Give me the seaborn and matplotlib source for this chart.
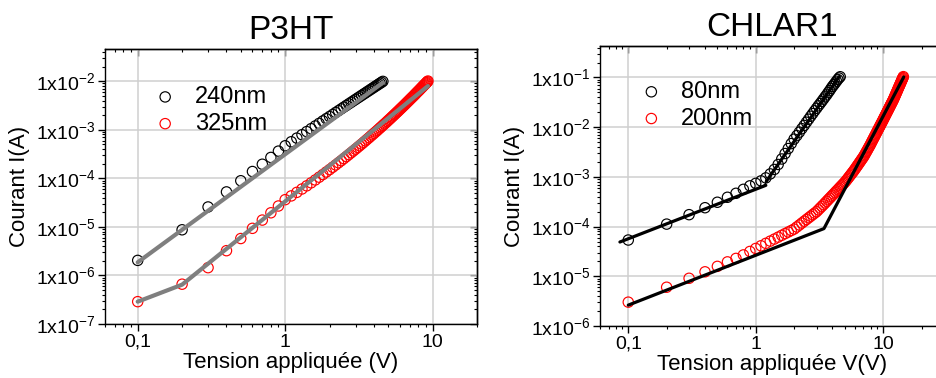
import numpy as np
import pandas as pd
import matplotlib
matplotlib.use("Agg")
import matplotlib.pyplot as plt
import seaborn as sns
from matplotlib.ticker import FixedLocator, FixedFormatter, NullFormatter, LogLocator

# ---------------- data : P3HT ----------------
titles = ["P3HT", "CHLAR1"]
xlabels = ["Tension appliquée (V)", "Tension appliquée V(V)"]
ylabel = "Courant I(A)"
x_tick_vals = [0.1, 1, 10]
x_tick_labels = ["0,1", "1", "10"]
p3ht_ytick_exp = [-7, -6, -5, -4, -3, -2]
chlar_ytick_exp = [-6, -5, -4, -3, -2, -1]

labels_p3ht = ["240nm", "325nm"]
labels_chlar = ["80nm", "200nm"]

v_240 = [0.1, 0.2, 0.3, 0.4, 0.5, 0.6, 0.7, 0.8, 0.9, 1.0,
         1.1, 1.2, 1.3, 1.4, 1.5, 1.6, 1.7, 1.8, 1.9, 2.0,
         2.1, 2.2, 2.3, 2.4, 2.5, 2.6, 2.7, 2.8, 2.9, 3.0,
         3.1, 3.2, 3.3, 3.4, 3.5, 3.6, 3.7, 3.8, 3.9, 4.0,
         4.1, 4.2, 4.3, 4.4, 4.5, 4.6]
logI_240 = [-5.69, -5.06, -4.59, -4.28, -4.05, -3.86, -3.71, -3.57, -3.44, -3.33,
            -3.247, -3.172, -3.102, -3.038, -2.978, -2.922, -2.869, -2.819, -2.772, -2.728,
            -2.686, -2.645, -2.607, -2.570, -2.534, -2.500, -2.467, -2.436, -2.405, -2.376,
            -2.347, -2.320, -2.293, -2.267, -2.242, -2.217, -2.194, -2.170, -2.148, -2.126,
            -2.104, -2.084, -2.063, -2.043, -2.024, -2.004]

v_325 = [0.1, 0.2, 0.3, 0.4, 0.5, 0.6, 0.7, 0.8, 0.9, 1.0,
         1.1, 1.2, 1.3, 1.4, 1.5, 1.6, 1.7, 1.8, 1.9, 2.0,
         2.1, 2.2, 2.3, 2.4, 2.5, 2.6, 2.7, 2.8, 2.9, 3.0,
         3.1, 3.2, 3.3, 3.4, 3.5, 3.6, 3.7, 3.8, 3.9, 4.0,
         4.1, 4.2, 4.3, 4.4, 4.5, 4.6, 4.7, 4.8, 4.9, 5.0,
         5.1, 5.2, 5.3, 5.4, 5.5, 5.6, 5.7, 5.8, 5.9, 6.0,
         6.1, 6.2, 6.3, 6.4, 6.5, 6.6, 6.7, 6.8, 6.9, 7.0,
         7.1, 7.2, 7.3, 7.4, 7.5, 7.6, 7.7, 7.8, 7.9, 8.0,
         8.1, 8.2, 8.3, 8.4, 8.5, 8.6, 8.7, 8.8, 8.9, 9.0,
         9.1, 9.2, 9.3]
logI_325 = [-6.54, -6.18, -5.84, -5.49, -5.24, -5.03, -4.86, -4.71, -4.57, -4.44,
            -4.362, -4.289, -4.220, -4.155, -4.093, -4.034, -3.977, -3.923, -3.870, -3.821,
            -3.772, -3.725, -3.680, -3.637, -3.594, -3.553, -3.513, -3.474, -3.436, -3.400,
            -3.364, -3.329, -3.295, -3.261, -3.228, -3.196, -3.165, -3.134, -3.104, -3.075,
            -3.046, -3.018, -2.990, -2.962, -2.936, -2.909, -2.883, -2.858, -2.833, -2.808,
            -2.784, -2.760, -2.736, -2.713, -2.690, -2.668, -2.645, -2.624, -2.602, -2.580,
            -2.559, -2.539, -2.518, -2.498, -2.478, -2.458, -2.438, -2.419, -2.400, -2.381,
            -2.362, -2.344, -2.326, -2.308, -2.290, -2.272, -2.255, -2.237, -2.220, -2.203,
            -2.187, -2.170, -2.154, -2.137, -2.121, -2.105, -2.089, -2.074, -2.058, -2.043,
            -2.028, -2.012, -1.997]

fit_240_v = [0.1, 4.6]
fit_240_logI = [-5.73, -2.03]
fit_325_v = [0.1, 0.2, 9.3]
fit_325_logI = [-6.54, -6.19, -2.10]

# ---------------- data : CHLAR1 ----------------
v_80 = [0.1, 0.2, 0.3, 0.4, 0.5, 0.6, 0.7, 0.8, 0.9, 1.0,
        1.1, 1.2, 1.3, 1.4, 1.5, 1.6, 1.7, 1.8, 1.9, 2.0,
        2.1, 2.2, 2.3, 2.4, 2.5, 2.6, 2.7, 2.8, 2.9, 3.0,
        3.1, 3.2, 3.3, 3.4, 3.5, 3.6, 3.7, 3.8, 3.9, 4.0,
        4.1, 4.2, 4.3, 4.4, 4.5, 4.6]
logI_80 = [-4.27, -3.95, -3.76, -3.62, -3.51, -3.41, -3.33, -3.25, -3.18, -3.13,
           -3.08, -3.02, -2.94, -2.85, -2.75, -2.64, -2.53, -2.43, -2.33, -2.24,
           -2.17, -2.10, -2.03, -1.965, -1.90, -1.84, -1.78, -1.725, -1.67, -1.62,
           -1.57, -1.525, -1.48, -1.435, -1.39, -1.35, -1.305, -1.265, -1.22, -1.18,
           -1.145, -1.11, -1.075, -1.04, -1.01, -0.985]

v_200 = [0.1, 0.2, 0.3, 0.4, 0.5, 0.6, 0.7, 0.8, 0.9, 1.0,
         1.1, 1.2, 1.3, 1.4, 1.5, 1.6, 1.7, 1.8, 1.9, 2.0,
         2.1, 2.2, 2.3, 2.4, 2.5, 2.6, 2.7, 2.8, 2.9, 3.0,
         3.1, 3.2, 3.3, 3.4, 3.5, 3.6, 3.7, 3.8, 3.9, 4.0,
         4.1, 4.2, 4.3, 4.4, 4.5, 4.6, 4.7, 4.8, 4.9, 5.0,
         5.1, 5.2, 5.3, 5.4, 5.5, 5.6, 5.7, 5.8, 5.9, 6.0,
         6.1, 6.2, 6.3, 6.4, 6.5, 6.6, 6.7, 6.8, 6.9, 7.0,
         7.1, 7.2, 7.3, 7.4, 7.5, 7.6, 7.7, 7.8, 7.9, 8.0,
         8.1, 8.2, 8.3, 8.4, 8.5, 8.6, 8.7, 8.8, 8.9, 9.0,
         9.1, 9.2, 9.3, 9.4, 9.5, 9.6, 9.7, 9.8, 9.9, 10.0,
         10.1, 10.2, 10.3, 10.4, 10.5, 10.6, 10.7, 10.8, 10.9, 11.0,
         11.1, 11.2, 11.3, 11.4, 11.5, 11.6, 11.7, 11.8, 11.9, 12.0,
         12.1, 12.2, 12.3, 12.4, 12.5, 12.6, 12.7, 12.8, 12.9, 13.0,
         13.1, 13.2, 13.3, 13.4, 13.5, 13.6, 13.7, 13.8, 13.9, 14.0,
         14.1, 14.2, 14.3, 14.4]
logI_200 = [-5.52, -5.22, -5.04, -4.91, -4.80, -4.71, -4.64, -4.57, -4.50, -4.44,
            -4.386, -4.337, -4.292, -4.251, -4.212, -4.175, -4.141, -4.109, -4.079, -4.050,
            -4.008, -3.968, -3.929, -3.892, -3.857, -3.823, -3.791, -3.759, -3.729, -3.700,
            -3.663, -3.627, -3.592, -3.559, -3.525, -3.492, -3.460, -3.429, -3.399, -3.369,
            -3.341, -3.313, -3.285, -3.258, -3.232, -3.206, -3.181, -3.156, -3.132, -3.108,
            -3.082, -3.054, -3.027, -3.000, -2.973, -2.948, -2.922, -2.897, -2.872, -2.845,
            -2.819, -2.793, -2.767, -2.742, -2.717, -2.692, -2.668, -2.644, -2.621, -2.598,
            -2.571, -2.544, -2.516, -2.489, -2.462, -2.436, -2.410, -2.384, -2.358, -2.333,
            -2.303, -2.277, -2.251, -2.225, -2.200, -2.175, -2.150, -2.125, -2.101, -2.077,
            -2.053, -2.030, -2.006, -1.983, -1.961, -1.938, -1.916, -1.894, -1.872, -1.850,
            -1.828, -1.806, -1.785, -1.764, -1.743, -1.722, -1.701, -1.681, -1.661, -1.641,
            -1.621, -1.601, -1.581, -1.562, -1.543, -1.524, -1.505, -1.486, -1.468, -1.449,
            -1.429, -1.408, -1.387, -1.366, -1.346, -1.325, -1.305, -1.285, -1.265, -1.245,
            -1.225, -1.206, -1.186, -1.167, -1.149, -1.130, -1.111, -1.092, -1.074, -1.055,
            -1.037, -1.019, -1.001, -0.983]

fit_80a_v = [0.086, 1.2]
fit_80a_logI = [-4.31, -3.17]
fit_80b_v = [1.21, 4.53]
fit_80b_logI = [-3.09, -0.98]
fit_200_v = [0.1, 3.43, 14.5]
fit_200_logI = [-5.58, -4.04, -0.99]

# ---------------- style ----------------
sns.set_style("white")
plt.rcParams["font.family"] = ["Liberation Sans", "DejaVu Sans"]
plt.rcParams["mathtext.default"] = "regular"
plt.rcParams["axes.linewidth"] = 1.0
plt.rcParams["axes.edgecolor"] = "black"
plt.rcParams["text.color"] = "black"
plt.rcParams["axes.labelcolor"] = "black"
plt.rcParams["axes.titlecolor"] = "black"
plt.rcParams["xtick.color"] = "black"
plt.rcParams["ytick.color"] = "black"


def df_of(v, logI):
    return pd.DataFrame({"V": np.asarray(v, float), "I": 10 ** np.asarray(logI, float)})


def scatter(ax, v, logI, color, label):
    sns.scatterplot(data=df_of(v, logI), x="V", y="I", ax=ax, marker="o", s=55,
                    facecolor="none", edgecolor=color, linewidth=0.85,
                    label=label, zorder=3)


def fit(ax, v, logI, color, lw):
    sns.lineplot(data=df_of(v, logI), x="V", y="I", ax=ax, color=color, lw=lw,
                 sort=False, estimator=None, zorder=4, legend=False)


def style_axes(ax, xlim, ylim, yexp, title, xlabel):
    ax.set_xscale("log")
    ax.set_yscale("log")
    ax.set_xlim(*xlim)
    ax.set_ylim(*ylim)
    ax.xaxis.set_major_locator(FixedLocator(x_tick_vals))
    ax.xaxis.set_major_formatter(FixedFormatter(x_tick_labels))
    ax.xaxis.set_minor_locator(LogLocator(base=10, subs=np.arange(2, 10)))
    ax.xaxis.set_minor_formatter(NullFormatter())
    ax.yaxis.set_major_locator(FixedLocator([10.0 ** e for e in yexp]))
    ax.yaxis.set_major_formatter(FixedFormatter(["1x10$^{%d}$" % e for e in yexp]))
    ax.yaxis.set_minor_locator(LogLocator(base=10, subs=np.arange(2, 10), numticks=20))
    ax.yaxis.set_minor_formatter(NullFormatter())
    ax.tick_params(which="both", direction="out", bottom=True, left=True,
                   top=False, right=False, colors="black")
    ax.tick_params(which="major", length=5, width=1.0, labelsize=14, pad=2)
    ax.tick_params(which="minor", length=2.5, width=0.8)
    ax.grid(True, which="major", color="#cfcfcf", lw=1.1)
    ax.set_axisbelow(True)
    for s in ax.spines.values():
        s.set_visible(True)
        s.set_color("black")
    sx = ax.secondary_xaxis("top")
    sx.xaxis.set_major_formatter(NullFormatter())
    sx.xaxis.set_minor_formatter(NullFormatter())
    sx.tick_params(which="both", direction="in")
    sx.tick_params(which="major", length=5, width=1.0)
    sx.tick_params(which="minor", length=2.5, width=0.8)
    sy = ax.secondary_yaxis("right")
    sy.yaxis.set_major_formatter(NullFormatter())
    sy.yaxis.set_minor_formatter(NullFormatter())
    sy.tick_params(which="both", direction="in")
    sy.tick_params(which="major", length=5, width=1.0)
    sy.tick_params(which="minor", length=2.5, width=0.8)
    ax.set_title(title, fontsize=24, pad=7, color="black")
    ax.set_xlabel(xlabel, fontsize=16, labelpad=1)
    ax.set_ylabel(ylabel, fontsize=16, labelpad=4)


W, H = 936, 378
fig = plt.figure(figsize=(W / 100, H / 100), dpi=100)
ax1 = fig.add_axes([105 / W, 1 - 324 / H, (477 - 105) / W, (324 - 49) / H])
ax2 = fig.add_axes([600 / W, 1 - 326 / H, (944 - 600) / W, (326 - 46) / H])

# P3HT
scatter(ax1, v_240, logI_240, "black", labels_p3ht[0])
scatter(ax1, v_325, logI_325, "red", labels_p3ht[1])
fit(ax1, fit_240_v, fit_240_logI, "#7f7f7f", 3.0)
fit(ax1, fit_325_v, fit_325_logI, "#7f7f7f", 3.0)
style_axes(ax1, (0.06, 20), (1e-7, 4.6e-2), p3ht_ytick_exp, titles[0], xlabels[0])
ax1.legend(loc="upper left", bbox_to_anchor=(0.13, 0.865), frameon=False,
           fontsize=17, handlelength=1.0, handletextpad=0.75, labelspacing=0.2,
           borderpad=0, borderaxespad=0)

# CHLAR1
scatter(ax2, v_80, logI_80, "black", labels_chlar[0])
scatter(ax2, v_200, logI_200, "red", labels_chlar[1])
fit(ax2, fit_80a_v, fit_80a_logI, "black", 2.3)
fit(ax2, fit_80b_v, fit_80b_logI, "black", 2.3)
fit(ax2, fit_200_v, fit_200_logI, "black", 2.3)
style_axes(ax2, (0.06, 30), (1e-6, 0.43), chlar_ytick_exp, titles[1], xlabels[1])
ax2.legend(loc="upper left", bbox_to_anchor=(0.115, 0.875), frameon=False,
           fontsize=17, handlelength=1.0, handletextpad=0.75, labelspacing=0.2,
           borderpad=0, borderaxespad=0)

fig.savefig("out.png", dpi=100)
